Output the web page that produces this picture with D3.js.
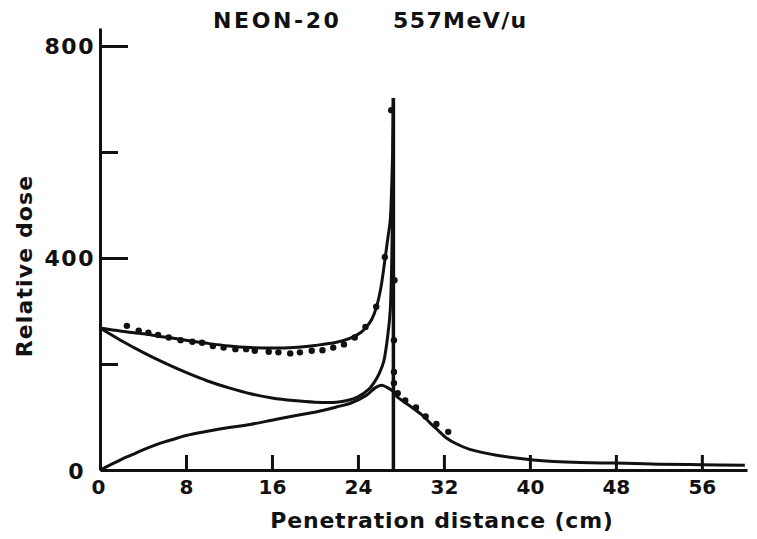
<!DOCTYPE html>
<html>
<head>
<meta charset="utf-8">
<script src="https://cdn.jsdelivr.net/npm/d3@7"></script>
<style>
  body { margin: 0; background: #fff; }
  svg text { font-family: "DejaVu Sans", sans-serif; font-weight: bold; fill: #111; }
  .axis path, .axis line { stroke: #111; stroke-width: 3; }
  .curve { fill: none; stroke: #111; stroke-width: 3; stroke-linejoin: round; }
</style>
</head>
<body>
<svg id="chart" width="757" height="539"></svg>
<script>
// tick values and labels
const xTicks = [0, 8, 16, 24, 32, 40, 48, 56];
const yTicks = [0, 200, 400, 600, 800];
const yLabelled = [0, 400, 800];

// total dose (cm, relative dose)
const total = [[0,268],[2,262],[4,257],[6,251],[8,245],[10,239],[12,234],[14,231],[16,230],[18,231],
  [20,235],[22,241],[23.3,249],[24.3,260],[24.8,270],[25.3,285],[25.7,306],[26.1,340],[26.5,395],
  [26.8,440],[27.0,470],[27.15,540],[27.25,620],[27.3,702]];

// primary ions
const primary = [[0,268],[2,244],[4,222],[6,202],[8,184],[10,168],[12,155],[14,144],[16,136],[18,131],
  [20,128],[22,128],[23,131],[24,138],[25,152],[25.5,165],[26,183],[26.4,205],[26.8,258],[27.0,300],
  [27.15,400],[27.25,550],[27.3,702]];

// fragments
const fragments = [[0,0],[1,10],[2,20],[3,29],[4,38],[5,46],[6,53],[7,59],[8,65],[10,73],[12,80],
  [14,86],[16,94],[18,102],[20.2,110],[22,119],[23.3,126],[24.8,141],[25.6,155],[26.2,160],[26.7,156],
  [27.3,148],[27.6,139],[28.4,127],[29.1,117],[30,103],[30.7,89],[31.5,74],[32.2,61],[33.2,49],
  [34.4,39],[36.9,28],[40.3,19],[44.7,14],[48,13],[52,11],[56,10],[60,9]];

// Bragg peak edge
const peakLine = [[27.3,0],[27.3,702]];

// measured points
const measured = [[2.5,272],[3.6,263],[4.5,259],[5.4,255],[6.4,250],[7.5,245],[8.6,242],[9.5,240],
  [10.5,234],[11.5,231],[12.6,228],[13.6,228],[14.4,225],[15.7,223],[16.6,222],[17.7,220],[18.6,222],
  [19.7,225],[20.7,226],[21.7,231],[22.7,237],[23.7,250],[24.7,270],[25.7,308],[26.5,402],[27.1,679],
  [27.4,358],[27.35,245],[27.35,185],[27.35,164],[27.7,145],[28.4,131],[29.4,118],[30.3,101],
  [31.3,87],[32.4,72]];

const svg = d3.select("#chart");

const x = d3.scaleLinear().domain([0, 60.2]).range([100, 747]);
const y = d3.scaleLinear().domain([0, 834]).range([470, 28]);

// x axis
const xAxis = d3.axisBottom(x)
  .tickValues(xTicks)
  .tickSize(-15)
  .tickSizeOuter(0)
  .tickPadding(10)
  .tickFormat(d3.format("d"));

const gx = svg.append("g")
  .attr("class", "axis")
  .attr("transform", "translate(0,470)")
  .call(xAxis);
gx.selectAll("text")
  .style("font-size", "20px")
  .attr("dx", d => d === 0 ? -2 : 0);
gx.selectAll(".tick").filter(d => d === 0).select("line").remove();

// y axis
const yAxis = d3.axisLeft(y)
  .tickValues(yTicks)
  .tickSize(-28)
  .tickSizeOuter(0)
  .tickPadding(5)
  .tickFormat(d => yLabelled.includes(d) ? d : "");

const gy = svg.append("g")
  .attr("class", "axis")
  .attr("transform", "translate(100,0)")
  .call(yAxis);
gy.selectAll(".tick line")
  .attr("x2", d => yLabelled.includes(d) ? 28 : 18);
gy.selectAll(".tick").filter(d => d === 0).select("line").remove();
gy.selectAll("text")
  .style("font-size", "22px")
  .style("letter-spacing", "1.5px")
  .attr("dx", d => d === 0 ? -10 : 0)
  .attr("dy", d => d === 0 ? "0.38em" : "0.32em");

// curves
const line = d3.line()
  .x(d => x(d[0]))
  .y(d => y(d[1]))
  .curve(d3.curveCatmullRom.alpha(0.5));

const plot = svg.append("g");
[total, primary, fragments].forEach(series => {
  plot.append("path").attr("class", "curve").attr("d", line(series));
});

plot.append("path")
  .attr("class", "curve")
  .style("stroke-width", 3.5)
  .attr("d", d3.line().x(d => x(d[0])).y(d => y(d[1]))(peakLine));

plot.selectAll(".dot")
  .data(measured)
  .enter()
    .append("circle")
      .attr("class", "dot")
      .attr("cx", d => x(d[0]))
      .attr("cy", d => y(d[1]))
      .attr("r", 3.2)
      .attr("fill", "#111");

// titles
svg.append("text")
  .attr("x", 213).attr("y", 28)
  .style("font-size", "22px").style("letter-spacing", "2.6px")
  .text("NEON-20");

svg.append("text")
  .attr("x", 393).attr("y", 28)
  .style("font-size", "22px").style("letter-spacing", "1.4px")
  .text("557MeV/u");

svg.append("text")
  .attr("x", 442).attr("y", 528)
  .attr("text-anchor", "middle")
  .style("font-size", "22px").style("letter-spacing", "0.8px")
  .text("Penetration distance (cm)");

svg.append("text")
  .attr("transform", "translate(32,266) rotate(-90)")
  .attr("text-anchor", "middle")
  .style("font-size", "22px").style("letter-spacing", "1.1px")
  .text("Relative dose");
</script>
</body>
</html>
